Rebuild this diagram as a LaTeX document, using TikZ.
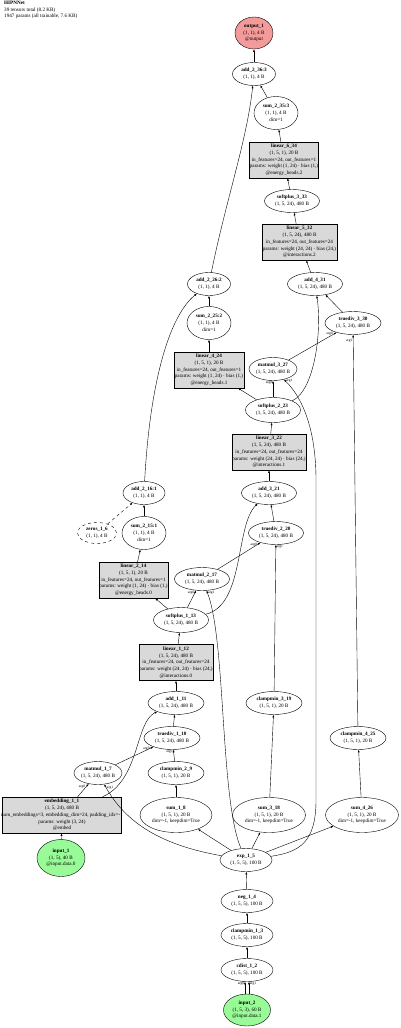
\documentclass[tikz,border=0pt]{standalone}
\usepackage{fontspec}
\setmainfont{Liberation Serif}
\usetikzlibrary{shapes.geometric,arrows.meta}

\definecolor{outred}{HTML}{F59A9A}
\definecolor{ingreen}{HTML}{98FB98}
\definecolor{boxgray}{HTML}{D9D9D9}

\newcommand{\nodefont}{\fontsize{5.15}{6.7}\selectfont}

\tikzset{
  layer/.style={ellipse, draw, line width=0.4pt, inner sep=-1.5pt, minimum width=55pt,
    minimum height=23pt, align=center, font=\nodefont},
  tall/.style={layer, minimum height=33pt},
  parambox/.style={rectangle, draw, line width=0.5pt, fill=boxgray, inner xsep=-4pt, inner ysep=0pt,
    minimum height=36pt, align=center, font=\nodefont},
  flow/.style={-{Latex[length=2.6pt,width=2pt]}, line width=0.4pt},
  argl/.style={font=\fontsize{3.6}{4}\selectfont, inner sep=0.6pt}
}

\begin{document}
\begin{tikzpicture}[x=1pt, y=-1pt]

	\useasboundingbox (0,0) rectangle (400,1028);

	% title
	\node[anchor=north west, align=left, inner sep=0pt, font=\nodefont] (title) at (4,1)
		{\textbf{HIPNNet}\\39 tensors total (8.2 KB)\\1947 params (all trainable, 7.6 KB)};

	% output end
	\node[layer, fill=outred, minimum width=38pt, minimum height=32pt] (out1) at (254,33)
		{\textbf{output\_1}\\(1, 1), 4 B\\@output};
	\node[layer, minimum width=43pt] (add36) at (254,74) {\textbf{add\_2\_36:3}\\(1, 1), 4 B};
	\node[tall, minimum width=44pt] (sum35) at (276,113) {\textbf{sum\_2\_35:3}\\(1, 1), 4 B\\dim=1};
	\node[parambox, minimum width=69pt] (lin34) at (284,160)
		{\textbf{linear\_6\_34}\\(1, 5, 1), 20 B\\in\_features=24, out\_features=1\\params: weight (1, 24) · bias (1,)\\@energy\_heads.2};
	\node[layer] (sp33) at (292,201) {\textbf{softplus\_3\_33}\\(1, 5, 24), 480 B};
	\node[parambox, minimum width=75pt] (lin32) at (299.5,242)
		{\textbf{linear\_5\_32}\\(1, 5, 24), 480 B\\in\_features=24, out\_features=24\\params: weight (24, 24) · bias (24,)\\@interactions.2};

	% block 2
	\node[layer, minimum width=43pt] (add26) at (209,284) {\textbf{add\_2\_26:2}\\(1, 1), 4 B};
	\node[layer] (add31) at (315,284) {\textbf{add\_4\_31}\\(1, 5, 24), 480 B};
	\node[tall, minimum width=44pt] (sum25) at (209,323) {\textbf{sum\_2\_25:2}\\(1, 1), 4 B\\dim=1};
	\node[layer, minimum width=56pt] (div30) at (353,323) {\textbf{truediv\_3\_30}\\(1, 5, 24), 480 B};
	\node[parambox, minimum width=70pt] (lin24) at (209,370)
		{\textbf{linear\_4\_24}\\(1, 5, 1), 20 B\\in\_features=24, out\_features=1\\params: weight (1, 24) · bias (1,)\\@energy\_heads.1};
	\node[layer, minimum width=48pt] (mm27) at (273,369) {\textbf{matmul\_3\_27}\\(1, 5, 24), 480 B};
	\node[layer, minimum height=25pt] (sp23) at (273,410) {\textbf{softplus\_2\_23}\\(1, 5, 24), 480 B};
	\node[parambox, minimum width=74pt] (lin22) at (269,452)
		{\textbf{linear\_3\_22}\\(1, 5, 24), 480 B\\in\_features=24, out\_features=24\\params: weight (24, 24) · bias (24,)\\@interactions.1};

	% block 1
	\node[layer, minimum width=42pt] (add16) at (144,493) {\textbf{add\_2\_16:1}\\(1, 1), 4 B};
	\node[layer] (add21) at (269,493) {\textbf{add\_3\_21}\\(1, 5, 24), 480 B};
	\node[layer, dashed, minimum width=39pt, minimum height=21pt] (zeros6) at (97,533) {\textbf{zeros\_1\_6}\\(1, 1), 4 B};
	\node[tall, minimum width=44pt] (sum15) at (144,533) {\textbf{sum\_2\_15:1}\\(1, 1), 4 B\\dim=1};
	\node[layer] (div20) at (276,533) {\textbf{truediv\_2\_20}\\(1, 5, 24), 480 B};
	\node[parambox, minimum width=69pt] (lin14) at (133.5,580)
		{\textbf{linear\_2\_14}\\(1, 5, 1), 20 B\\in\_features=24, out\_features=1\\params: weight (1, 24) · bias (1,)\\@energy\_heads.0};
	\node[layer] (mm17) at (202,579) {\textbf{matmul\_2\_17}\\(1, 5, 24), 480 B};
	\node[layer, minimum height=25pt] (sp13) at (181,620) {\textbf{softplus\_1\_13}\\(1, 5, 24), 480 B};
	\node[parambox, minimum width=74pt] (lin12) at (176,662.5)
		{\textbf{linear\_1\_12}\\(1, 5, 24), 480 B\\in\_features=24, out\_features=24\\params: weight (24, 24) · bias (24,)\\@interactions.0};

	% block 0
	\node[layer, minimum width=56pt] (add11) at (176,703) {\textbf{add\_1\_11}\\(1, 5, 24), 480 B};
	\node[layer, minimum width=56pt] (cm19) at (274,703) {\textbf{clampmin\_3\_19}\\(1, 5, 1), 20 B};
	\node[layer, minimum width=56pt] (div10) at (172,738) {\textbf{truediv\_1\_10}\\(1, 5, 24), 480 B};
	\node[layer, minimum width=56pt] (cm25) at (358,738) {\textbf{clampmin\_4\_25}\\(1, 5, 1), 20 B};
	\node[layer, minimum width=48pt] (mm7) at (98,773) {\textbf{matmul\_1\_7}\\(1, 5, 24), 480 B};
	\node[layer, minimum width=56pt] (cm9) at (176,773) {\textbf{clampmin\_2\_9}\\(1, 5, 1), 20 B};
	\node[parambox, minimum width=119pt] (emb1) at (62,815)
		{\textbf{embedding\_1\_1}\\(1, 5, 24), 480 B\\num\_embeddings=3, embedding\_dim=24, padding\_idx=-1\\params: weight (3, 24)\\@embed};
	\node[tall, minimum width=72pt, minimum height=35pt] (sum8) at (176,815) {\textbf{sum\_1\_8}\\(1, 5, 1), 20 B\\dim=-1, keepdim=True};
	\node[tall, minimum width=73pt, minimum height=35pt] (sum18) at (269,815) {\textbf{sum\_3\_18}\\(1, 5, 1), 20 B\\dim=-1, keepdim=True};
	\node[tall, minimum width=73pt, minimum height=35pt] (sum26) at (362,815) {\textbf{sum\_4\_26}\\(1, 5, 1), 20 B\\dim=-1, keepdim=True};

	% inputs and distances
	\node[layer, fill=ingreen, minimum width=48pt, minimum height=37pt] (in1) at (61,858)
		{\textbf{input\_1}\\(1, 5), 40 B\\@input.data.0};
	\node[layer, minimum width=52pt] (exp5) at (246,860) {\textbf{exp\_1\_5}\\(1, 5, 5), 100 B};
	\node[layer, minimum width=52pt] (neg4) at (247,901) {\textbf{neg\_1\_4}\\(1, 5, 5), 100 B};
	\node[layer, minimum width=52pt] (cm3) at (247,935) {\textbf{clampmin\_1\_3}\\(1, 5, 5), 100 B};
	\node[layer, minimum width=52pt] (cdist2) at (247,970) {\textbf{cdist\_1\_2}\\(1, 5, 5), 100 B};
	\node[layer, fill=ingreen, minimum width=47pt, minimum height=32pt] (in2) at (247,1010)
		{\textbf{input\_2}\\(1, 5, 3), 60 B\\@input.data.1};

	% connectors, top part
	\draw[flow] (add36) -- (out1);
	\draw[flow] (sum35) -- (add36);
	\draw[flow] (add26) .. controls (226,200) and (247,140) .. (add36);
	\draw[flow] (lin34) -- (sum35);
	\draw[flow] (sp33) -- (lin34);
	\draw[flow] (lin32) -- (sp33);
	\draw[flow] (add31) -- (lin32);
	\draw[flow] (sum25) -- (add26);
	\draw[flow] (add16) .. controls (150,380) and (170,315) .. (add26);
	\draw[flow] (div30) -- (add31);
	\draw[flow] (sp23) .. controls (315,390) and (322,330) .. (add31);
	\draw[flow] (lin24) -- (sum25);
	\draw[flow] (mm27) -- node[argl, pos=0.94, left] {arg0} (div30);
	\draw[flow] (cm25) -- node[argl, pos=0.985, left] {arg1} (div30);
	\draw[flow] (sp23) -- (lin24);
	\draw[flow] (sp23) -- node[argl, pos=0.9, left] {arg0} (mm27);
	\draw[flow] (exp5) .. controls (300,852) and (316,842) .. (316,800) -- (316,480)
		.. controls (316,425) and (300,395) .. node[argl, pos=0.97, right] {arg1} (mm27);
	\draw[flow] (lin22) -- (sp23);

	% connectors, middle part
	\draw[flow] (add21) -- (lin22);
	\draw[flow] (div20) -- (add21);
	\draw[flow] (sp13) .. controls (245,605) and (235,525) .. (add21);
	\draw[flow] (sum15) -- (add16);
	\draw[flow, dashed] (zeros6) -- (add16);
	\draw[flow] (lin14) -- (sum15);
	\draw[flow] (mm17) -- node[argl, pos=0.94, left] {arg0} (div20);
	\draw[flow] (cm19) -- node[argl, pos=0.985, right] {arg1} (div20);
	\draw[flow] (sp13) -- (lin14);
	\draw[flow] (sp13) -- node[argl, pos=0.88, left] {arg0} (mm17);
	\draw[flow] (exp5) .. controls (220,800) and (226,640) .. node[argl, pos=0.985, right] {arg1} (mm17);
	\draw[flow] (lin12) -- (sp13);
	\draw[flow] (add11) -- (lin12);

	% connectors, bottom part
	\draw[flow] (div10) -- (add11);
	\draw[flow] (emb1) .. controls (140,780) and (135,722) .. (add11);
	\draw[flow] (mm7) -- node[argl, pos=0.92, left] {arg0} (div10);
	\draw[flow] (cm9) -- node[argl, pos=0.8, left] {arg1} (div10);
	\draw[flow] (emb1) -- node[argl, pos=0.75, left] {arg0} (mm7);
	\draw[flow] (exp5) .. controls (160,845) and (125,822) .. node[argl, pos=0.97, right] {arg1} (mm7);
	\draw[flow] (sum8) -- (cm9);
	\draw[flow] (sum18) -- (cm19);
	\draw[flow] (sum26) -- (cm25);
	\draw[flow] (exp5) -- (sum8);
	\draw[flow] (exp5) -- (sum18);
	\draw[flow] (exp5) -- (sum26);
	\draw[flow] (in1) -- (emb1);
	\draw[flow] (neg4) -- (exp5);
	\draw[flow] (cm3) -- (neg4);
	\draw[flow] (cdist2) -- (cm3);

	% two inputs of cdist
	\draw[flow] ([xshift=-2pt]in2.north) -- node[argl, pos=0.8, left] {arg0} ([xshift=-2pt]cdist2.south);
	\draw[flow] ([xshift=2pt]in2.north) -- node[argl, pos=0.8, right] {arg1} ([xshift=2pt]cdist2.south);

\end{tikzpicture}
\end{document}
